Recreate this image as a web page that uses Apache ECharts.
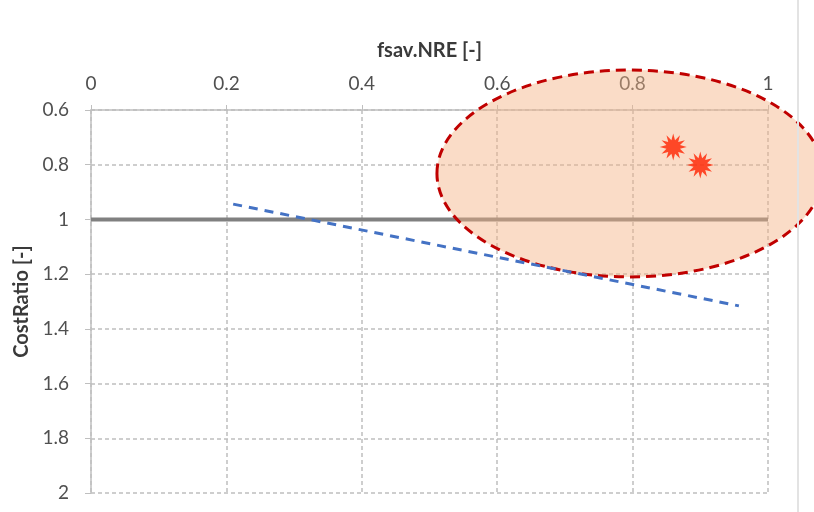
<!DOCTYPE html>
<html>
<head>
<meta charset="utf-8">
<script src="https://cdn.jsdelivr.net/npm/echarts@6/dist/echarts.min.js"></script>
<style>html,body{margin:0;padding:0;background:#fff;}#c{width:814px;height:512px;}</style>
</head>
<body>
<div id="c"></div>
<script>
// ---- data ----
const xAxisTitle = 'fsav.NRE [-]';
const yAxisTitle = 'CostRatio [-]';
const refLineX = [0, 1];
const refLineY = [1, 1];
const trendX = [0.21, 0.957];
const trendY = [0.944, 1.316];
const pointsX = [0.860, 0.900];
const pointsY = [0.735, 0.801];
const ellipseCenter = [0.796, 0.832];
const ellipseRadii = [0.285, 0.378];

// starburst symbol shape
function starPath(n, rOut, rIn) {
  let d = '';
  for (let i = 0; i < 2 * n; i++) {
    const r = i % 2 === 0 ? rOut : rIn;
    const a = Math.PI * i / n - Math.PI / 2;
    d += (i === 0 ? 'M' : 'L') + (50 + r * Math.cos(a)).toFixed(2) + ',' + (50 + r * Math.sin(a)).toFixed(2);
  }
  return 'path://' + d + 'Z';
}

const chart = echarts.init(document.getElementById('c'));
const font = 'Lato, "Open Sans", sans-serif';
chart.setOption({
  animation: false,
  grid: { left: 91, right: 46, top: 110, bottom: 19 },
  graphic: [{
    type: 'line', z: 100,
    shape: { x1: 798, y1: 0, x2: 798, y2: 512 },
    style: { stroke: '#e3e3e3', lineWidth: 2 }
  }],
  xAxis: {
    type: 'value', position: 'top', min: 0, max: 1, interval: 0.2,
    name: xAxisTitle, nameLocation: 'middle', nameGap: 49,
    nameTextStyle: { fontFamily: font, fontSize: 20, fontWeight: 'bold', color: '#3a3a3a' },
    axisLine: { show: true, lineStyle: { color: '#bfbfbf', width: 1.5 } },
    axisTick: { show: true, length: 5, lineStyle: { color: '#bfbfbf' } },
    axisLabel: { fontFamily: font, fontSize: 19, color: '#505050', margin: 17 },
    splitLine: { show: true, lineStyle: { color: '#bfbfbf', type: [4, 3], width: 1.5 } }
  },
  yAxis: {
    type: 'value', inverse: true, min: 0.6, max: 2, interval: 0.2,
    name: yAxisTitle, nameLocation: 'middle', nameGap: 58, nameRotate: 90,
    nameTextStyle: { fontFamily: font, fontSize: 20, fontWeight: 'bold', color: '#3a3a3a' },
    axisLine: { show: true, lineStyle: { color: '#bfbfbf', width: 1.5 } },
    axisTick: { show: true, length: 6, lineStyle: { color: '#bfbfbf' } },
    axisLabel: { fontFamily: font, fontSize: 19, color: '#505050', margin: 22 },
    splitLine: { show: true, lineStyle: { color: '#bfbfbf', type: [4, 3], width: 1.5 } }
  },
  series: [
    {
      type: 'line', z: 2, symbol: 'none', silent: true,
      data: refLineX.map((x, i) => [x, refLineY[i]]),
      lineStyle: { color: '#808080', width: 4 }
    },
    {
      type: 'custom', z: 3, clip: false, silent: true,
      data: [[ellipseCenter[0], ellipseCenter[1], ellipseRadii[0], ellipseRadii[1]]],
      encode: { x: 0, y: 1 },
      renderItem: function (params, api) {
        const c = api.coord([api.value(0), api.value(1)]);
        const s = api.size([api.value(2), api.value(3)]);
        return {
          type: 'ellipse',
          shape: { cx: c[0], cy: c[1], rx: Math.abs(s[0]), ry: Math.abs(s[1]) },
          style: { fill: 'rgba(244,177,131,0.45)', stroke: '#c00000', lineWidth: 3, lineDash: [10, 6] }
        };
      }
    },
    {
      type: 'line', z: 4, symbol: 'none', silent: true,
      data: trendX.map((x, i) => [x, trendY[i]]),
      lineStyle: { color: '#4472c4', width: 3, type: [9, 7] }
    },
    {
      type: 'scatter', z: 5, silent: true,
      symbol: starPath(12, 50, 26), symbolSize: 27,
      itemStyle: { color: '#ff2200' },
      data: pointsX.map((x, i) => [x, pointsY[i]])
    }
  ]
});
</script>
</body>
</html>
